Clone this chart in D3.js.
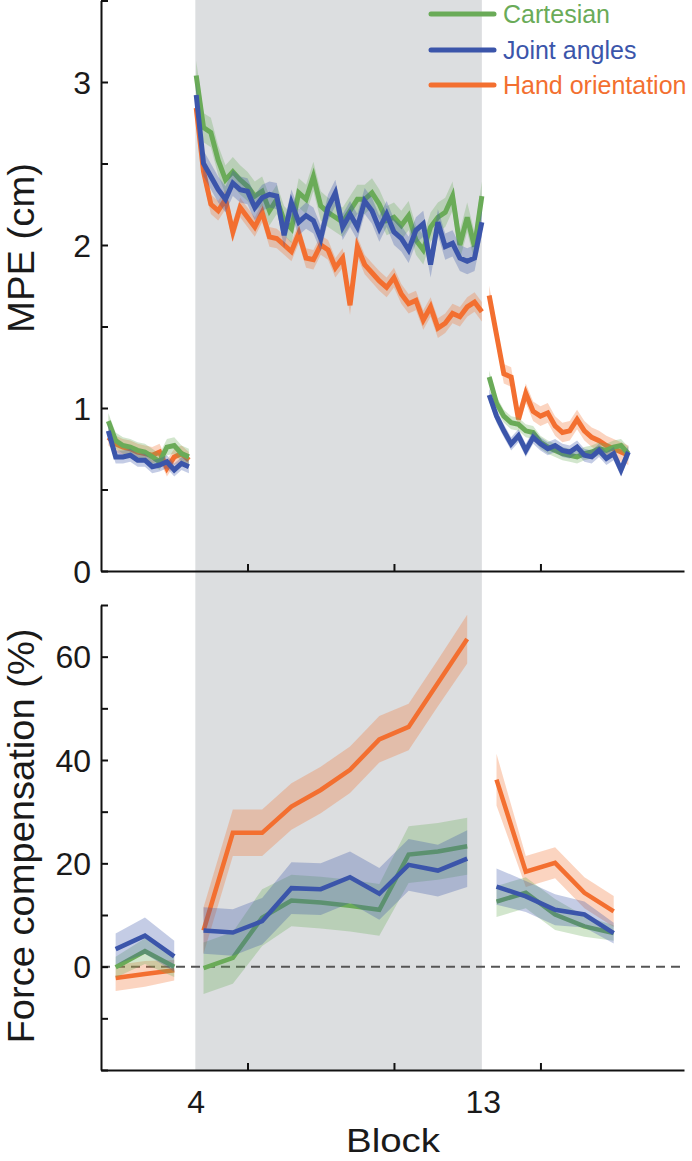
<!DOCTYPE html>
<html><head><meta charset="utf-8">
<script src="https://cdn.jsdelivr.net/npm/d3@7"></script>
<style>body{margin:0;background:#fff}svg{display:block}text{font-family:"Liberation Sans",Arial,sans-serif}</style>
</head><body>
<script>
// ---------- data ----------
const seriesNames = ["Cartesian", "Joint angles", "Hand orientation"];
const seriesColors = ["#6aab58", "#3b55aa", "#f36f30"];
const drawOrder = [2, 0, 1];

// Top panel: MPE (cm), sub-block resolution (4 per block)
const topBaseX = d3.range(0.75, 3.51, 0.25);
const topExpX = d3.range(3.75, 13.51, 0.25);
const topPostX = d3.range(13.75, 18.51, 0.25);

const mpeBaseCart = [0.92, 0.80, 0.77, 0.76, 0.74, 0.73, 0.70, 0.67, 0.76, 0.77, 0.72, 0.70];
const mpeBaseJoint = [0.86, 0.70, 0.70, 0.71, 0.68, 0.68, 0.64, 0.65, 0.67, 0.62, 0.66, 0.64];
const mpeBaseHand = [0.82, 0.78, 0.76, 0.75, 0.73, 0.72, 0.71, 0.73, 0.63, 0.70, 0.72, 0.68];

const mpeExpCart = [3.04, 2.72, 2.69, 2.52, 2.40, 2.45, 2.40, 2.36, 2.30, 2.33, 2.21, 2.28, 2.15, 2.10, 2.32, 2.28, 2.42, 2.24, 2.20, 2.17,
  2.14, 2.21, 2.28, 2.28, 2.32, 2.25, 2.15, 2.17, 2.12, 2.18, 2.03, 1.97, 2.11, 2.17, 2.20, 2.30, 2.00, 2.17, 1.99, 2.30];
const mpeExpJoint = [2.92, 2.50, 2.42, 2.34, 2.28, 2.38, 2.34, 2.33, 2.23, 2.29, 2.31, 2.30, 2.06, 2.26, 2.14, 2.18, 2.15, 2.04, 2.23, 2.32,
  2.11, 2.19, 2.11, 2.27, 2.21, 2.10, 2.19, 2.08, 2.04, 1.97, 2.09, 2.13, 1.88, 2.14, 1.99, 2.01, 1.92, 1.90, 1.92, 2.14];
const mpeExpHand = [2.84, 2.45, 2.25, 2.21, 2.28, 2.08, 2.23, 2.17, 2.11, 2.20, 2.05, 2.04, 2.00, 1.96, 2.07, 1.92, 1.91, 2.00, 1.97, 1.86,
  1.92, 1.63, 1.99, 1.88, 1.83, 1.78, 1.74, 1.80, 1.70, 1.64, 1.66, 1.54, 1.62, 1.49, 1.52, 1.58, 1.56, 1.62, 1.65, 1.59];

const mpePostCart = [1.19, 1.03, 0.95, 0.91, 0.90, 0.86, 0.85, 0.79, 0.76, 0.74, 0.72, 0.71, 0.70, 0.72, 0.73, 0.75, 0.74, 0.76, 0.77, 0.72];
const mpePostJoint = [1.08, 0.95, 0.86, 0.78, 0.83, 0.74, 0.82, 0.78, 0.75, 0.77, 0.74, 0.73, 0.76, 0.71, 0.70, 0.74, 0.69, 0.72, 0.62, 0.73];
const mpePostHand = [1.69, 1.45, 1.21, 1.19, 0.93, 1.09, 0.98, 0.95, 0.97, 0.89, 0.85, 0.86, 0.93, 0.86, 0.82, 0.80, 0.77, 0.75, 0.73, 0.71];

// band half-widths (cm) per phase [baseline, exposure, post]
const mpeErrCart = [0.05, 0.09, 0.04];
const mpeErrJoint = [0.04, 0.08, 0.04];
const mpeErrHand = [0.05, 0.06, 0.06];

// Bottom panel: force compensation (%), per block
const blocks = [1, 2, 3, 4, 5, 6, 7, 8, 9, 10, 11, 12, 13, 14, 15, 16, 17, 18];
const phaseOfBlock = [0, 0, 0, 1, 1, 1, 1, 1, 1, 1, 1, 1, 1, 2, 2, 2, 2, 2];
const fcCart = [-0.1, 3.0, 0.0, -0.3, 1.7, 9.5, 12.8, 12.4, 11.8, 11.0, 21.7, 22.3, 23.3, 12.6, 14.3, 10.1, 7.8, 6.5];
const fcJoint = [3.4, 6.0, 2.0, 7.0, 6.6, 8.8, 15.2, 15.0, 17.3, 14.1, 19.7, 18.6, 20.9, 15.5, 13.6, 11.0, 10.1, 6.5];
const fcHand = [-2.2, -1.4, -0.7, 7.0, 25.9, 25.9, 31.0, 34.2, 38.1, 44.0, 46.4, 54.9, 63.4, 36.2, 18.4, 20.1, 14.3, 10.7];
const fcErrCart = [2, 2.5, 2, 5, 5, 5.5, 5, 5, 5, 5, 5.5, 5.5, 5.5, 3, 3, 3, 2, 1.5];
const fcErrJoint = [3, 3.5, 3, 4.5, 4.5, 4.5, 5, 5, 5, 5, 5, 5, 5.5, 3.5, 3, 3, 2.5, 2];
const fcErrHand = [2.5, 2.5, 2, 4.5, 4.5, 4.5, 4.5, 4.5, 4.5, 4.5, 4.5, 4.5, 4.7, 5, 3, 3, 3, 3];

// axes
const xDomain = [0.5, 20.4];
const exposureSpan = [3.72, 13.5];
const xTickVals = [5.5, 10.5, 15.5];
const xLabelPos = [3.75, 13.55];
const xLabelText = ["4", "13"];
const mpeDomain = [0, 3.5];
const mpeTicks = [0, 0.5, 1, 1.5, 2, 2.5, 3, 3.5];
const mpeLabels = [0, 1, 2, 3];
const fcDomain = [-20, 70];
const fcTicks = [-20, -10, 0, 10, 20, 30, 40, 50, 60, 70];
const fcLabels = [0, 20, 40, 60];

// ---------- drawing ----------
const W = 692, H = 1161;
const svg = d3.select("body").append("svg").attr("width", W).attr("height", H);

const x = d3.scaleLinear().domain(xDomain).range([101, 684]);
const y1 = d3.scaleLinear().domain(mpeDomain).range([571, 0.5]);
const y2 = d3.scaleLinear().domain(fcDomain).range([1070, 605]);

// exposure shading
svg.append("rect").attr("x", x(exposureSpan[0])).attr("y", 0)
  .attr("width", x(exposureSpan[1]) - x(exposureSpan[0])).attr("height", y2(fcDomain[0]))
  .attr("fill", "#dcdee0");

// top panel
const topPhasesX = [topBaseX, topExpX, topPostX];
const topData = [
  [mpeBaseCart, mpeExpCart, mpePostCart],
  [mpeBaseJoint, mpeExpJoint, mpePostJoint],
  [mpeBaseHand, mpeExpHand, mpePostHand]];
const topErr = [mpeErrCart, mpeErrJoint, mpeErrHand];

const gTop = svg.append("g");
drawOrder.forEach(s => {
  const col = seriesColors[s];
  topData[s].forEach((vals, p) => {
    const pts = vals.map((v, i) => ({x: topPhasesX[p][i], y: v, e: topErr[s][p]}));
    gTop.append("path").datum(pts)
      .attr("d", d3.area().x(d => x(d.x)).y0(d => y1(d.y - d.e)).y1(d => y1(d.y + d.e)))
      .attr("fill", col).attr("fill-opacity", 0.3);
    gTop.append("path").datum(pts)
      .attr("d", d3.line().x(d => x(d.x)).y(d => y1(d.y)))
      .attr("fill", "none").attr("stroke", col).attr("stroke-width", 5)
      .attr("stroke-linejoin", "miter");
  });
});

// bottom panel
const fcData = [fcCart, fcJoint, fcHand];
const fcErr = [fcErrCart, fcErrJoint, fcErrHand];
const gBot = svg.append("g");
gBot.append("line").attr("x1", x(xDomain[0])).attr("x2", x(xDomain[1]))
  .attr("y1", y2(0)).attr("y2", y2(0))
  .attr("stroke", "#555").attr("stroke-width", 2).attr("stroke-dasharray", "9,6");
drawOrder.forEach(s => {
  const col = seriesColors[s];
  [0, 1, 2].forEach(p => {
    const pts = blocks.map((b, i) => ({x: b, y: fcData[s][i], e: fcErr[s][i], p: phaseOfBlock[i]}))
      .filter(d => d.p === p);
    gBot.append("path").datum(pts)
      .attr("d", d3.area().x(d => x(d.x)).y0(d => y2(d.y - d.e)).y1(d => y2(d.y + d.e)))
      .attr("fill", col).attr("fill-opacity", 0.3);
    gBot.append("path").datum(pts)
      .attr("d", d3.line().x(d => x(d.x)).y(d => y2(d.y)))
      .attr("fill", "none").attr("stroke", col).attr("stroke-width", 4.5);
  });
});

// axes
function styleAxis(g) {
  g.select(".domain").attr("stroke", "#111").attr("stroke-width", 2);
  g.selectAll(".tick line").attr("stroke", "#111").attr("stroke-width", 2);
}
const ay1 = svg.append("g").attr("transform", `translate(${x(xDomain[0])},0)`)
  .call(d3.axisRight(y1).tickValues(mpeTicks).tickSize(7).tickSizeOuter(0).tickFormat(""));
styleAxis(ay1);
const ax1 = svg.append("g").attr("transform", `translate(0,${y1(0)})`)
  .call(d3.axisTop(x).tickValues(xTickVals).tickSize(7).tickSizeOuter(0).tickFormat(""));
styleAxis(ax1);
const ay2 = svg.append("g").attr("transform", `translate(${x(xDomain[0])},0)`)
  .call(d3.axisRight(y2).tickValues(fcTicks).tickSize(7).tickSizeOuter(0).tickFormat(""));
styleAxis(ay2);
const ax2 = svg.append("g").attr("transform", `translate(0,${y2(fcDomain[0])})`)
  .call(d3.axisTop(x).tickValues(xTickVals).tickSize(7).tickSizeOuter(0).tickFormat(""));
styleAxis(ax2);

// tick labels
const tickFont = 32;
svg.append("g").selectAll("text").data(mpeLabels).join("text")
  .attr("x", 91).attr("y", d => y1(d)).attr("dy", "0.36em")
  .attr("text-anchor", "end").attr("font-size", tickFont).attr("fill", "#1a1a1a").text(d => d);
svg.append("g").selectAll("text").data(fcLabels).join("text")
  .attr("x", 91).attr("y", d => y2(d)).attr("dy", "0.36em")
  .attr("text-anchor", "end").attr("font-size", tickFont).attr("fill", "#1a1a1a").text(d => d);
svg.append("g").selectAll("text").data(xLabelPos).join("text")
  .attr("x", d => x(d)).attr("y", 1113)
  .attr("text-anchor", "middle").attr("font-size", tickFont).attr("fill", "#1a1a1a")
  .text((d, i) => xLabelText[i]);

// axis titles
svg.append("text").attr("transform", "translate(34,248) rotate(-90)")
  .attr("text-anchor", "middle").attr("font-size", 36).attr("fill", "#1a1a1a")
  .attr("textLength", 170).attr("lengthAdjust", "spacingAndGlyphs").text("MPE (cm)");
svg.append("text").attr("transform", "translate(34,836) rotate(-90)")
  .attr("text-anchor", "middle").attr("font-size", 36).attr("fill", "#1a1a1a")
  .attr("textLength", 415).attr("lengthAdjust", "spacingAndGlyphs").text("Force compensation (%)");
svg.append("text").attr("x", 393).attr("y", 1152)
  .attr("text-anchor", "middle").attr("font-size", 34).attr("fill", "#1a1a1a")
  .attr("textLength", 94).attr("lengthAdjust", "spacingAndGlyphs").text("Block");

// legend
const legY = [14, 50, 85];
const leg = svg.append("g");
seriesNames.forEach((n, i) => {
  leg.append("line").attr("x1", 431).attr("x2", 494).attr("y1", legY[i]).attr("y2", legY[i])
    .attr("stroke", seriesColors[i]).attr("stroke-width", 5).attr("stroke-linecap", "round");
  leg.append("text").attr("x", 503).attr("y", legY[i]).attr("dy", "0.36em")
    .attr("font-size", 25).attr("fill", seriesColors[i]).text(n);
});
</script>
</body></html>
